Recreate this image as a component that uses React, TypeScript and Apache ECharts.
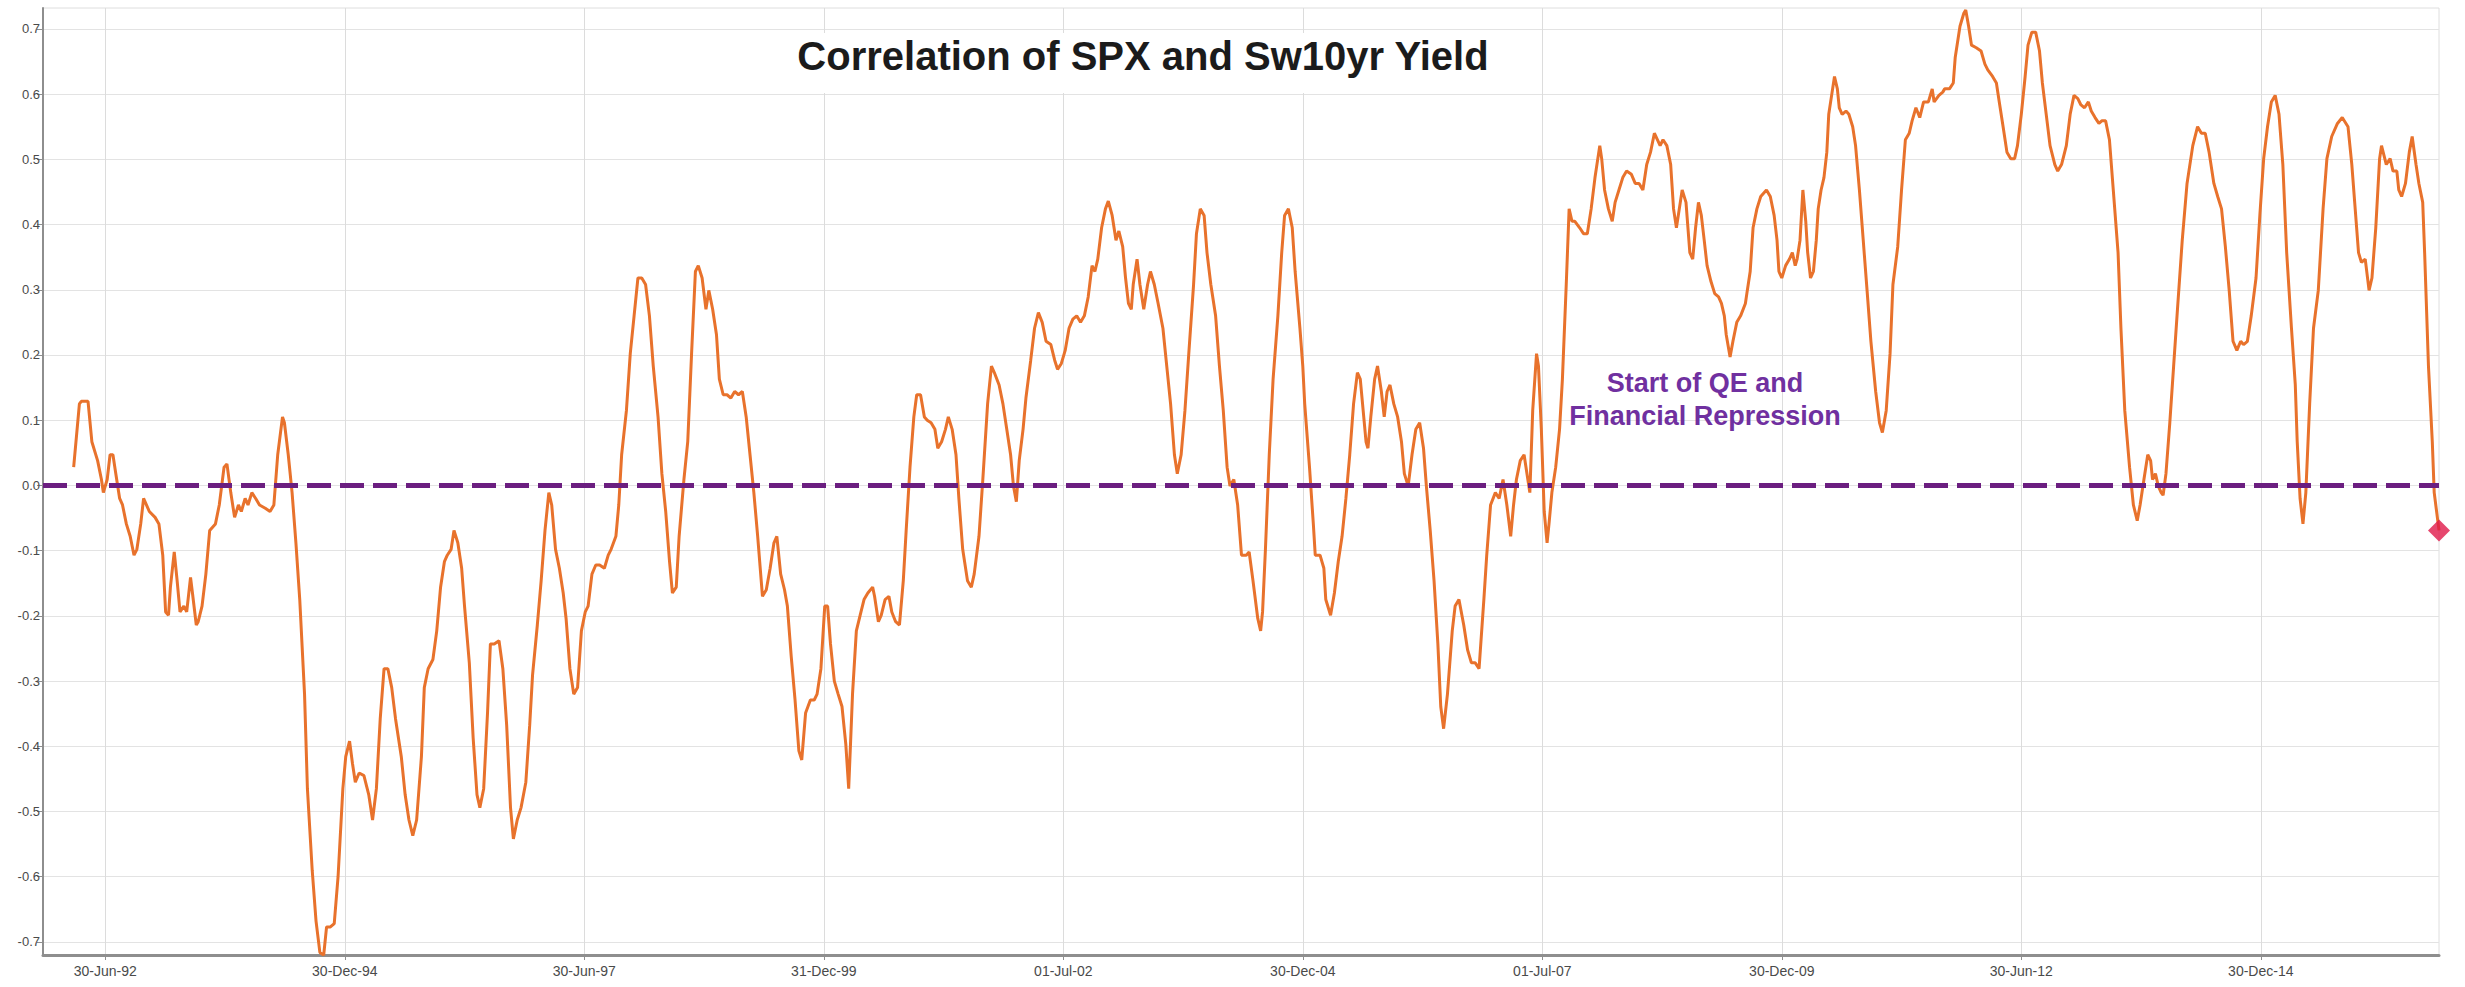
import React, { useEffect, useRef } from 'react';
import * as echarts from 'echarts';

// ---- Data (decimal years, correlation) ----
const seg1Years = [
  1992.17,1992.23,1992.25,1992.32,1992.36,1992.42,1992.46,1992.48,1992.52,1992.55,
  1992.58,1992.61,1992.65,1992.68,1992.72,1992.76,1992.80,1992.83,1992.87,1992.90,
  1992.96,1993.02,1993.06,1993.10,1993.13,1993.16,1993.18,1993.22,1993.25,1993.28,
  1993.32,1993.35,1993.39,1993.41,1993.45,1993.47,1993.51,1993.55,1993.59,1993.65,
  1993.69,1993.74,1993.77,1993.81,1993.85,1993.89,1993.92,1993.96,1993.99,1994.03,
  1994.07,1994.11,1994.17,1994.22,1994.26,1994.30,1994.35,1994.37,1994.41,1994.45,
  1994.49,1994.53,1994.58,1994.61,1994.66,1994.70,1994.74,1994.78,1994.81,1994.85,
  1994.89,1994.93,1994.98,1995.01,1995.05,1995.08,1995.11,1995.15,1995.20,1995.25,
  1995.29,1995.33,1995.37,1995.41,1995.45,1995.49,1995.53,1995.59,1995.63,1995.67,
  1995.71,1995.75,1995.80,1995.83,1995.87,1995.92,1995.96,1996.00,1996.04,1996.07,
  1996.11,1996.14,1996.18,1996.22,1996.25,1996.30,1996.34,1996.38,1996.41,1996.45,
  1996.49,1996.52,1996.56,1996.61,1996.65,1996.69,1996.73,1996.76,1996.80,1996.84,
  1996.89,1996.93,1996.96,1997.01,1997.05,1997.09,1997.13,1997.16,1997.20,1997.24,
  1997.28,1997.31,1997.35,1997.39,1997.43,1997.47,1997.51,1997.54,1997.58,1997.62,
  1997.66,1997.71,1997.75,1997.78,1997.83,1997.86,1997.89,1997.94,1997.98,1998.02,
  1998.06,1998.10,1998.14,1998.18,1998.22,1998.27,1998.31,1998.35,1998.39,1998.42,
  1998.46,1998.49,1998.54,1998.58,1998.62,1998.66,1998.69,1998.73,1998.77,1998.80,
  1998.84,1998.88,1998.91,1998.95,1998.99,1999.03,1999.07,1999.11,1999.15,1999.19,
  1999.23,1999.27,1999.31,1999.36,1999.40,1999.44,1999.48,1999.51,1999.55,1999.59,
  1999.62,1999.66,1999.70,1999.74,1999.77,1999.81,1999.86,1999.90,1999.93,1999.97,
  2000.01,2000.04,2000.07,2000.11,2000.15,2000.19,2000.23,2000.26,
];
const seg1Values = [
  0.028,0.125,0.129,0.129,0.067,0.038,0.009,-0.011,0.009,0.047,
  0.047,0.018,-0.020,-0.030,-0.059,-0.078,-0.107,-0.098,-0.059,-0.020,
  -0.040,-0.049,-0.059,-0.107,-0.194,-0.199,-0.156,-0.102,-0.146,-0.194,
  -0.185,-0.194,-0.141,-0.165,-0.214,-0.209,-0.185,-0.136,-0.069,-0.059,
  -0.030,0.028,0.033,-0.011,-0.049,-0.030,-0.040,-0.020,-0.030,-0.011,
  -0.020,-0.030,-0.035,-0.040,-0.030,0.047,0.105,0.096,0.047,-0.011,
  -0.088,-0.175,-0.320,-0.465,-0.590,-0.668,-0.716,-0.720,-0.677,-0.677,
  -0.672,-0.600,-0.465,-0.416,-0.392,-0.426,-0.455,-0.441,-0.445,-0.474,
  -0.513,-0.465,-0.358,-0.281,-0.281,-0.310,-0.358,-0.416,-0.474,-0.513,
  -0.537,-0.513,-0.416,-0.310,-0.281,-0.267,-0.223,-0.156,-0.117,-0.107,
  -0.098,-0.069,-0.088,-0.127,-0.185,-0.272,-0.387,-0.474,-0.494,-0.465,
  -0.349,-0.243,-0.243,-0.238,-0.281,-0.368,-0.494,-0.542,-0.513,-0.494,
  -0.455,-0.368,-0.291,-0.214,-0.146,-0.069,-0.011,-0.030,-0.098,-0.127,
  -0.165,-0.204,-0.281,-0.320,-0.310,-0.223,-0.194,-0.185,-0.136,-0.122,
  -0.122,-0.127,-0.107,-0.098,-0.078,-0.030,0.047,0.115,0.202,0.260,
  0.318,0.318,0.308,0.260,0.183,0.105,0.018,-0.040,-0.117,-0.165,
  -0.156,-0.078,0.009,0.067,0.202,0.328,0.337,0.318,0.270,0.299,
  0.270,0.231,0.163,0.139,0.139,0.134,0.144,0.139,0.144,0.105,
  0.047,-0.011,-0.078,-0.170,-0.160,-0.127,-0.088,-0.078,-0.136,-0.160,
  -0.185,-0.262,-0.329,-0.407,-0.421,-0.349,-0.329,-0.329,-0.320,-0.281,
  -0.185,-0.185,-0.243,-0.300,-0.320,-0.339,-0.397,-0.465,
];

const seg2Years = [
  2000.30,2000.34,2000.38,2000.42,2000.46,2000.51,2000.53,2000.57,2000.60,2000.64,
  2000.68,2000.71,2000.75,2000.79,2000.83,2000.86,2000.90,2000.94,2000.97,2001.01,
  2001.05,2001.08,2001.12,2001.16,2001.19,2001.23,2001.27,2001.30,2001.34,2001.38,
  2001.41,2001.45,2001.50,2001.54,2001.57,2001.62,2001.66,2001.71,2001.75,2001.78,
  2001.83,2001.87,2001.91,2001.95,2001.98,2002.01,2002.04,2002.08,2002.11,2002.16,
  2002.20,2002.24,2002.28,2002.32,2002.37,2002.41,2002.44,2002.48,2002.52,2002.56,
  2002.60,2002.64,2002.68,2002.72,2002.76,2002.80,2002.83,2002.86,2002.90,2002.94,
  2002.97,2003.01,2003.05,2003.08,2003.12,2003.15,2003.18,2003.21,2003.23,2003.27,
  2003.30,2003.34,2003.38,2003.41,2003.45,2003.49,2003.54,2003.58,2003.62,2003.66,
  2003.69,2003.73,2003.77,2003.81,2003.86,2003.89,2003.93,2003.97,2004.00,2004.04,
  2004.09,2004.13,2004.17,2004.21,2004.24,2004.28,2004.32,2004.36,2004.41,2004.44,
  2004.48,2004.53,2004.56,2004.58,2004.61,2004.65,2004.69,2004.74,2004.78,2004.81,
  2004.85,2004.89,2004.92,2004.97,2005.00,2005.02,2005.07,2005.11,2005.13,2005.18,
  2005.22,2005.24,2005.29,2005.33,2005.37,2005.41,2005.45,2005.49,2005.53,2005.57,
  2005.60,2005.63,2005.66,2005.68,2005.71,2005.75,2005.78,2005.82,2005.85,2005.88,
  2005.91,2005.95,2005.99,2006.03,2006.06,2006.10,2006.14,2006.18,2006.22,2006.26,
  2006.29,2006.33,2006.37,2006.41,2006.44,2006.47,2006.51,2006.56,2006.59,2006.63,
  2006.68,2006.72,2006.76,2006.80,2006.84,2006.89,2006.92,2006.96,2007.01,2007.05,
  2007.09,2007.13,2007.17,2007.20,2007.23,2007.27,2007.31,2007.34,2007.37,2007.40,
  2007.44,2007.46,2007.49,2007.52,2007.55,2007.57,2007.60,2007.64,2007.68,2007.71,
  2007.75,2007.78,2007.81,2007.84,2007.89,2007.93,2007.97,2008.01,2008.05,2008.10,
  2008.12,2008.15,2008.19,2008.23,2008.26,2008.30,2008.34,2008.38,2008.43,2008.47,
  2008.51,2008.55,2008.59,2008.63,2008.67,
];
const seg2Values = [
  -0.320,-0.223,-0.199,-0.175,-0.165,-0.156,-0.170,-0.209,-0.199,-0.175,
  -0.170,-0.194,-0.209,-0.214,-0.146,-0.069,0.028,0.105,0.139,0.139,
  0.105,0.100,0.096,0.086,0.057,0.067,0.086,0.105,0.086,0.047,
  -0.020,-0.098,-0.146,-0.156,-0.136,-0.078,0.009,0.125,0.183,0.173,
  0.154,0.125,0.086,0.047,-0.001,-0.025,0.038,0.086,0.134,0.192,
  0.241,0.265,0.250,0.221,0.216,0.192,0.178,0.187,0.207,0.241,
  0.255,0.260,0.250,0.260,0.289,0.337,0.328,0.347,0.395,0.424,
  0.436,0.414,0.376,0.390,0.366,0.318,0.279,0.270,0.308,0.347,
  0.308,0.270,0.308,0.328,0.308,0.279,0.241,0.183,0.125,0.047,
  0.018,0.047,0.115,0.202,0.308,0.386,0.424,0.414,0.357,0.308,
  0.260,0.183,0.115,0.028,-0.001,0.009,-0.030,-0.107,-0.107,-0.102,
  -0.146,-0.204,-0.223,-0.194,-0.098,0.047,0.163,0.260,0.357,0.414,
  0.424,0.395,0.328,0.241,0.183,0.125,0.028,-0.059,-0.107,-0.107,
  -0.127,-0.175,-0.199,-0.165,-0.117,-0.078,-0.020,0.047,0.125,0.173,
  0.163,0.115,0.067,0.057,0.105,0.163,0.183,0.144,0.105,0.144,
  0.154,0.125,0.105,0.067,0.018,-0.001,0.047,0.086,0.096,0.057,
  -0.001,-0.069,-0.146,-0.243,-0.339,-0.373,-0.320,-0.223,-0.185,-0.175,
  -0.214,-0.252,-0.272,-0.272,-0.281,-0.175,-0.107,-0.030,-0.011,-0.020,
  0.009,-0.030,-0.078,-0.030,0.009,0.038,0.047,0.018,-0.011,0.115,
  0.202,0.183,0.086,-0.040,-0.088,-0.059,-0.011,0.028,0.086,0.163,
  0.308,0.424,0.405,0.405,0.395,0.386,0.386,0.424,0.472,0.521,
  0.501,0.453,0.424,0.405,0.434,0.453,0.472,0.482,0.477,0.463,
  0.463,0.453,0.492,0.511,0.540,
];

const seg3Years = [
  2008.73,2008.76,2008.80,2008.84,2008.87,2008.90,2008.93,2008.96,2009.00,2009.04,
  2009.07,2009.10,2009.13,2009.16,2009.19,2009.22,2009.26,2009.30,2009.34,2009.37,
  2009.40,2009.42,2009.46,2009.49,2009.53,2009.57,2009.62,2009.64,2009.67,2009.70,
  2009.74,2009.78,2009.84,2009.88,2009.92,2009.95,2009.97,2010.00,2010.04,2010.08,
  2010.11,2010.14,2010.16,2010.19,2010.22,2010.25,2010.27,2010.30,2010.33,2010.36,
  2010.38,2010.41,2010.44,2010.47,2010.49,2010.52,2010.55,2010.58,2010.60,2010.63,
  2010.67,2010.70,2010.74,2010.77,2010.81,2010.85,2010.89,2010.93,2010.98,2011.02,
  2011.05,2011.09,2011.13,2011.16,2011.21,2011.25,2011.29,2011.33,2011.36,2011.40,
  2011.44,2011.48,2011.53,2011.57,2011.59,2011.64,2011.68,2011.70,2011.75,2011.79,
  2011.81,2011.86,2011.90,2011.92,2011.95,2011.98,2012.03,2012.08,2012.12,2012.15,
  2012.20,2012.24,2012.27,2012.31,2012.35,2012.39,2012.43,2012.46,2012.50,2012.54,
  2012.57,2012.61,2012.65,2012.69,2012.72,2012.76,2012.80,2012.85,2012.88,2012.92,
  2012.97,2013.01,2013.05,2013.09,2013.12,2013.16,2013.20,2013.23,2013.27,2013.31,
  2013.34,2013.38,2013.42,2013.46,2013.51,2013.54,2013.58,2013.63,2013.67,2013.71,
  2013.74,2013.78,2013.82,2013.85,2013.87,2013.90,2013.93,2013.96,2013.98,2014.01,
  2014.05,2014.09,2014.13,2014.18,2014.23,2014.29,2014.34,2014.38,2014.42,2014.46,
  2014.51,2014.55,2014.59,2014.63,2014.67,2014.71,2014.75,2014.79,2014.82,2014.86,
  2014.90,2014.95,2014.99,2015.03,2015.07,2015.11,2015.15,2015.19,2015.23,2015.27,
  2015.32,2015.36,2015.38,2015.41,2015.44,2015.47,2015.51,2015.55,2015.60,2015.65,
  2015.69,2015.74,2015.80,2015.85,2015.91,2015.95,2015.98,2016.02,2016.05,2016.09,
  2016.13,2016.16,2016.20,2016.24,2016.26,2016.31,2016.35,2016.38,2016.42,2016.44,
  2016.47,2016.51,2016.55,2016.58,2016.62,2016.65,2016.69,2016.71,2016.75,2016.79,
  2016.81,2016.86,
];
const seg3Values = [
  0.521,0.530,0.521,0.492,0.424,0.395,0.424,0.453,0.434,0.357,
  0.347,0.395,0.434,0.414,0.376,0.337,0.313,0.294,0.289,0.279,
  0.260,0.231,0.197,0.221,0.250,0.260,0.279,0.299,0.328,0.395,
  0.424,0.443,0.453,0.443,0.414,0.376,0.328,0.318,0.337,0.347,
  0.357,0.337,0.347,0.376,0.453,0.405,0.357,0.318,0.328,0.376,
  0.424,0.453,0.472,0.511,0.569,0.598,0.627,0.608,0.579,0.569,
  0.574,0.569,0.550,0.521,0.453,0.376,0.299,0.221,0.144,0.096,
  0.081,0.115,0.202,0.308,0.366,0.453,0.530,0.540,0.559,0.579,
  0.564,0.588,0.588,0.608,0.588,0.598,0.603,0.608,0.608,0.617,
  0.656,0.704,0.724,0.729,0.704,0.675,0.671,0.666,0.646,0.637,
  0.627,0.617,0.588,0.550,0.511,0.501,0.501,0.521,0.569,0.627,
  0.675,0.695,0.695,0.666,0.617,0.569,0.521,0.492,0.482,0.492,
  0.521,0.569,0.598,0.593,0.584,0.579,0.588,0.574,0.564,0.555,
  0.559,0.559,0.530,0.453,0.357,0.241,0.115,0.028,-0.030,-0.054,
  -0.030,0.009,0.047,0.038,0.009,0.018,-0.001,-0.011,-0.015,0.018,
  0.096,0.183,0.270,0.376,0.463,0.521,0.550,0.540,0.540,0.511,
  0.463,0.443,0.424,0.366,0.299,0.221,0.207,0.221,0.216,0.221,
  0.260,0.318,0.414,0.501,0.550,0.588,0.598,0.569,0.492,0.357,
  0.241,0.154,0.067,-0.020,-0.059,-0.011,0.125,0.241,0.299,0.424,
  0.501,0.535,0.555,0.564,0.550,0.492,0.434,0.357,0.342,0.347,
  0.299,0.318,0.395,0.501,0.521,0.492,0.501,0.482,0.482,0.453,
  0.443,0.463,0.511,0.535,0.492,0.463,0.434,0.357,0.183,0.067,
  -0.011,-0.069,
];

const xTickYears = [1992.5, 1995, 1997.5, 2000, 2002.5, 2005, 2007.5, 2010, 2012.5, 2015];
const xTickLabels = [
  '30-Jun-92', '30-Dec-94', '30-Jun-97', '31-Dec-99', '01-Jul-02',
  '30-Dec-04', '01-Jul-07', '30-Dec-09', '30-Jun-12', '30-Dec-14',
];
const yTickValues = [-0.7, -0.6, -0.5, -0.4, -0.3, -0.2, -0.1, 0, 0.1, 0.2, 0.3, 0.4, 0.5, 0.6, 0.7];
const zeroLineValue = 0;
const titleText = 'Correlation of SPX and Sw10yr Yield';
const annotationText = 'Start of QE and\nFinancial Repression';

const FONT = '"Liberation Sans", Arial, Helvetica, sans-serif';

export default function App() {
  const ref = useRef<HTMLDivElement>(null);

  useEffect(() => {
    if (!ref.current) return;
    const chart = echarts.init(ref.current, null, { renderer: 'svg' });

    const years = [...seg1Years, ...seg2Years, ...seg3Years];
    const values = [...seg1Values, ...seg2Values, ...seg3Values];
    const n = Math.min(years.length, values.length);
    const data: number[][] = [];
    for (let i = 0; i < n; i++) data.push([years[i], values[i]]);
    const last = data[data.length - 1];

    chart.setOption({
      animation: false,
      backgroundColor: '#ffffff',
      textStyle: { fontFamily: FONT },
      grid: {
        left: 43,
        right: 26,
        top: 8,
        bottom: 32,
        show: true,
        borderColor: '#dedede',
        borderWidth: 1,
        containLabel: false,
      },
      xAxis: {
        type: 'value',
        min: 1991.85,
        max: 2016.86,
        axisLine: { show: true, onZero: false, lineStyle: { color: '#8e8e8e', width: 3 } },
        axisTick: { show: true, customValues: xTickYears, length: 5, lineStyle: { color: '#8e8e8e', width: 1 } },
        axisLabel: {
          customValues: xTickYears,
          formatter: (v: number) => {
            const i = xTickYears.findIndex((t) => Math.abs(t - v) < 1e-6);
            return i >= 0 ? xTickLabels[i] : '';
          },
          color: '#4a4a4a',
          fontSize: 14,
          margin: 9,
          fontFamily: FONT,
        },
        splitLine: { show: true, lineStyle: { color: '#dcdcdc', width: 1 } },
      },
      yAxis: {
        type: 'value',
        min: -0.72,
        max: 0.732,
        axisLine: { show: true, onZero: false, lineStyle: { color: '#8e8e8e', width: 2 } },
        axisTick: { show: true, customValues: yTickValues, length: 6, lineStyle: { color: '#8e8e8e', width: 1 } },
        axisLabel: {
          customValues: yTickValues,
          formatter: (v: number) => v.toFixed(1),
          color: '#4a4a4a',
          fontSize: 13,
          margin: 3,
          fontFamily: FONT,
        },
        splitLine: { show: true, lineStyle: { color: '#e3e3e3', width: 1 } },
      },
      series: [
        {
          type: 'line',
          data,
          symbol: 'none',
          showSymbol: false,
          lineStyle: { color: '#E8722C', width: 3 },
          z: 3,
        },
        {
          type: 'line',
          data: [],
          symbol: 'none',
          z: 4,
          markLine: {
            silent: true,
            symbol: 'none',
            label: { show: false },
            lineStyle: { color: '#6B1E80', width: 5, type: [24, 9] },
            data: [{ yAxis: zeroLineValue }],
          },
        },
        {
          type: 'scatter',
          data: [last],
          symbol: 'diamond',
          symbolSize: 22,
          itemStyle: { color: '#E0194A' },
          clip: false,
          z: 5,
        },
      ],
      graphic: [
        {
          type: 'rect',
          silent: true,
          z: 1,
          shape: { x: 757, y: 33, width: 758, height: 60 },
          style: { fill: '#ffffff' },
        },
        {
          type: 'text',
          z: 10,
          x: 1143,
          y: 36,
          style: {
            text: titleText,
            font: `bold 40px ${FONT}`,
            fill: '#1b1b1b',
            align: 'center',
            verticalAlign: 'top',
          },
        },
        {
          type: 'text',
          z: 10,
          x: 1705,
          y: 366,
          style: {
            text: annotationText,
            font: `bold 27px ${FONT}`,
            fill: '#7030A0',
            align: 'center',
            verticalAlign: 'top',
            lineHeight: 33,
          },
        },
      ],
    });

    return () => {
      chart.dispose();
    };
  }, []);

  return (
    <div
      ref={ref}
      style={{ position: 'absolute', left: 0, top: 0, width: 2465, height: 987, background: '#ffffff' }}
    />
  );
}
